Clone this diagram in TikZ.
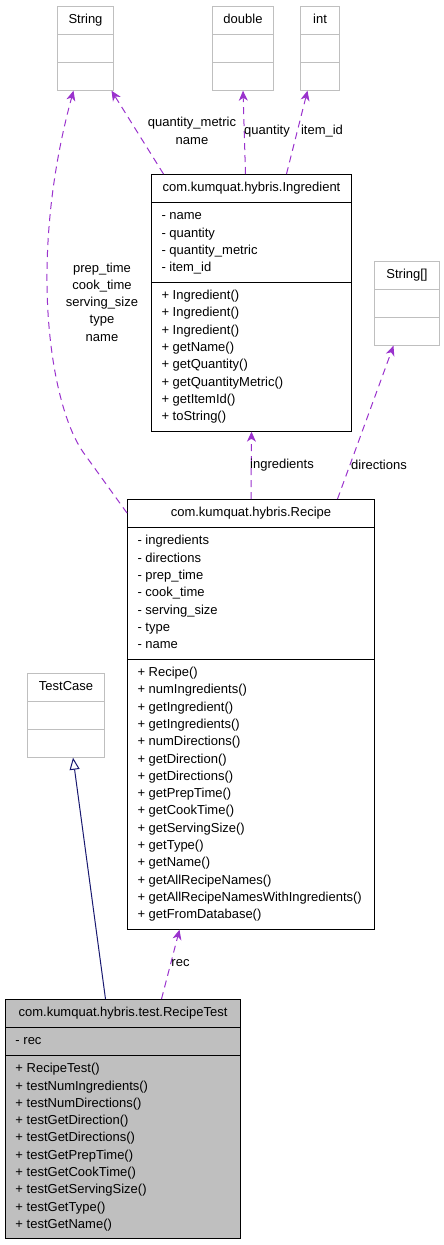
\documentclass[tikz,border=0pt]{standalone}
\usepackage{fontspec}
\setmainfont{Liberation Sans}
\usetikzlibrary{shapes.multipart,arrows.meta}
\definecolor{usecolor}{HTML}{9A32CD}
\definecolor{inhcolor}{HTML}{191970}
\definecolor{boxgray}{HTML}{BFBFBF}
\newcommand{\members}[1]{\begin{tabular}{@{}l@{}}#1\end{tabular}}
\begin{document}
\begin{tikzpicture}[x=1pt, y=-1pt,
		umlclass/.style={rectangle split, rectangle split parts=3, draw=black, line width=1pt, fill=white, anchor=north west, inner xsep=10pt, inner ysep=4.8pt, font=\fontsize{13}{17.3}\selectfont, rectangle split part align={center,left,left}},
		extclass/.style={umlclass, draw=boxgray},
		uses/.style={draw=usecolor, line width=1pt, dash pattern=on 7pt off 5pt, -{Stealth[length=10pt, width=9pt, inset=3pt]}},
		inherits/.style={draw=inhcolor, line width=1pt, -{Triangle[open, length=12pt, width=10pt]}},
		edgelabel/.style={align=center, inner sep=0pt, font=\fontsize{13}{17.3}\selectfont}]
		\useasboundingbox (0,0) rectangle (444,1245);

		\node[extclass, minimum width=56pt] (String) at (57,6) {\strut String \nodepart{two}\strut \nodepart{three}\strut};
		\node[extclass, minimum width=61pt] (double) at (212,6) {\strut double \nodepart{two}\strut \nodepart{three}\strut};
		\node[extclass, minimum width=39pt] (int) at (300,6) {\strut int \nodepart{two}\strut \nodepart{three}\strut};
		\node[extclass, minimum width=65pt] (StringArr) at (374,261) {\strut String[] \nodepart{two}\strut \nodepart{three}\strut};
		\node[extclass, minimum width=77pt] (TestCase) at (27,673) {\strut TestCase \nodepart{two}\strut \nodepart{three}\strut};

		\node[umlclass, minimum width=200pt] (Ingredient) at (151,174) {\strut com.kumquat.hybris.Ingredient
			\nodepart{two}\members{- name\\ - quantity\\ - quantity\_metric\\ - item\_id}
			\nodepart{three}\members{+ Ingredient()\\ + Ingredient()\\ + Ingredient()\\ + getName()\\ + getQuantity()\\ + getQuantityMetric()\\ + getItemId()\\ + toString()}};

		\node[umlclass, minimum width=247pt] (Recipe) at (127,499) {\strut com.kumquat.hybris.Recipe
			\nodepart{two}\members{- ingredients\\ - directions\\ - prep\_time\\ - cook\_time\\ - serving\_size\\ - type\\ - name}
			\nodepart{three}\members{+ Recipe()\\ + numIngredients()\\ + getIngredient()\\ + getIngredients()\\ + numDirections()\\ + getDirection()\\ + getDirections()\\ + getPrepTime()\\ + getCookTime()\\ + getServingSize()\\ + getType()\\ + getName()\\ + getAllRecipeNames()\\ + getAllRecipeNamesWithIngredients()\\ + getFromDatabase()}};

		\node[umlclass, fill=boxgray, minimum width=235pt] (RecipeTest) at (5,999) {\strut com.kumquat.hybris.test.RecipeTest
			\nodepart{two}\strut - rec
			\nodepart{three}\members{+ RecipeTest()\\ + testNumIngredients()\\ + testNumDirections()\\ + testGetDirection()\\ + testGetDirections()\\ + testGetPrepTime()\\ + testGetCookTime()\\ + testGetServingSize()\\ + testGetType()\\ + testGetName()}};

		\draw[uses] ([xshift=-88pt]Ingredient.north) -- ([xshift=26pt]String.south);
		\draw[uses] ([xshift=-6pt]Ingredient.north) -- (double.south);
		\draw[uses] ([xshift=35pt]Ingredient.north) -- ([xshift=-12.5pt]int.south);
		\draw[uses] (Recipe.north) -- (Ingredient.south);
		\draw[uses] ([xshift=86.5pt]Recipe.north) -- ([xshift=-13.5pt]StringArr.south);
		\draw[uses] ([yshift=-14pt]Recipe.north west) -- (83,452) .. controls (61,420) and (46,350) .. (47,270) .. controls (48,200) and (60,140) .. ([xshift=-12pt]String.south);
		\draw[uses] ([xshift=38.5pt]RecipeTest.north) -- ([xshift=-71.5pt]Recipe.south);
		\draw[inherits] ([xshift=-17.5pt]RecipeTest.north) -- ([xshift=7pt]TestCase.south);

		\node[edgelabel] (lblqm) at (192,131) {quantity\_metric\\name};
		\node[edgelabel] (lblquantity) at (267,131) {quantity};
		\node[edgelabel] (lblitem) at (322,131) {item\_id};
		\node[edgelabel] (lblrecipe) at (102,302) {prep\_time\\cook\_time\\serving\_size\\type\\name};
		\node[edgelabel] (lblingredients) at (282,465) {ingredients};
		\node[edgelabel] (lbldirections) at (379,465) {directions};
		\node[edgelabel] (lblrec) at (180.5,963) {rec};
	\end{tikzpicture}
\end{document}
